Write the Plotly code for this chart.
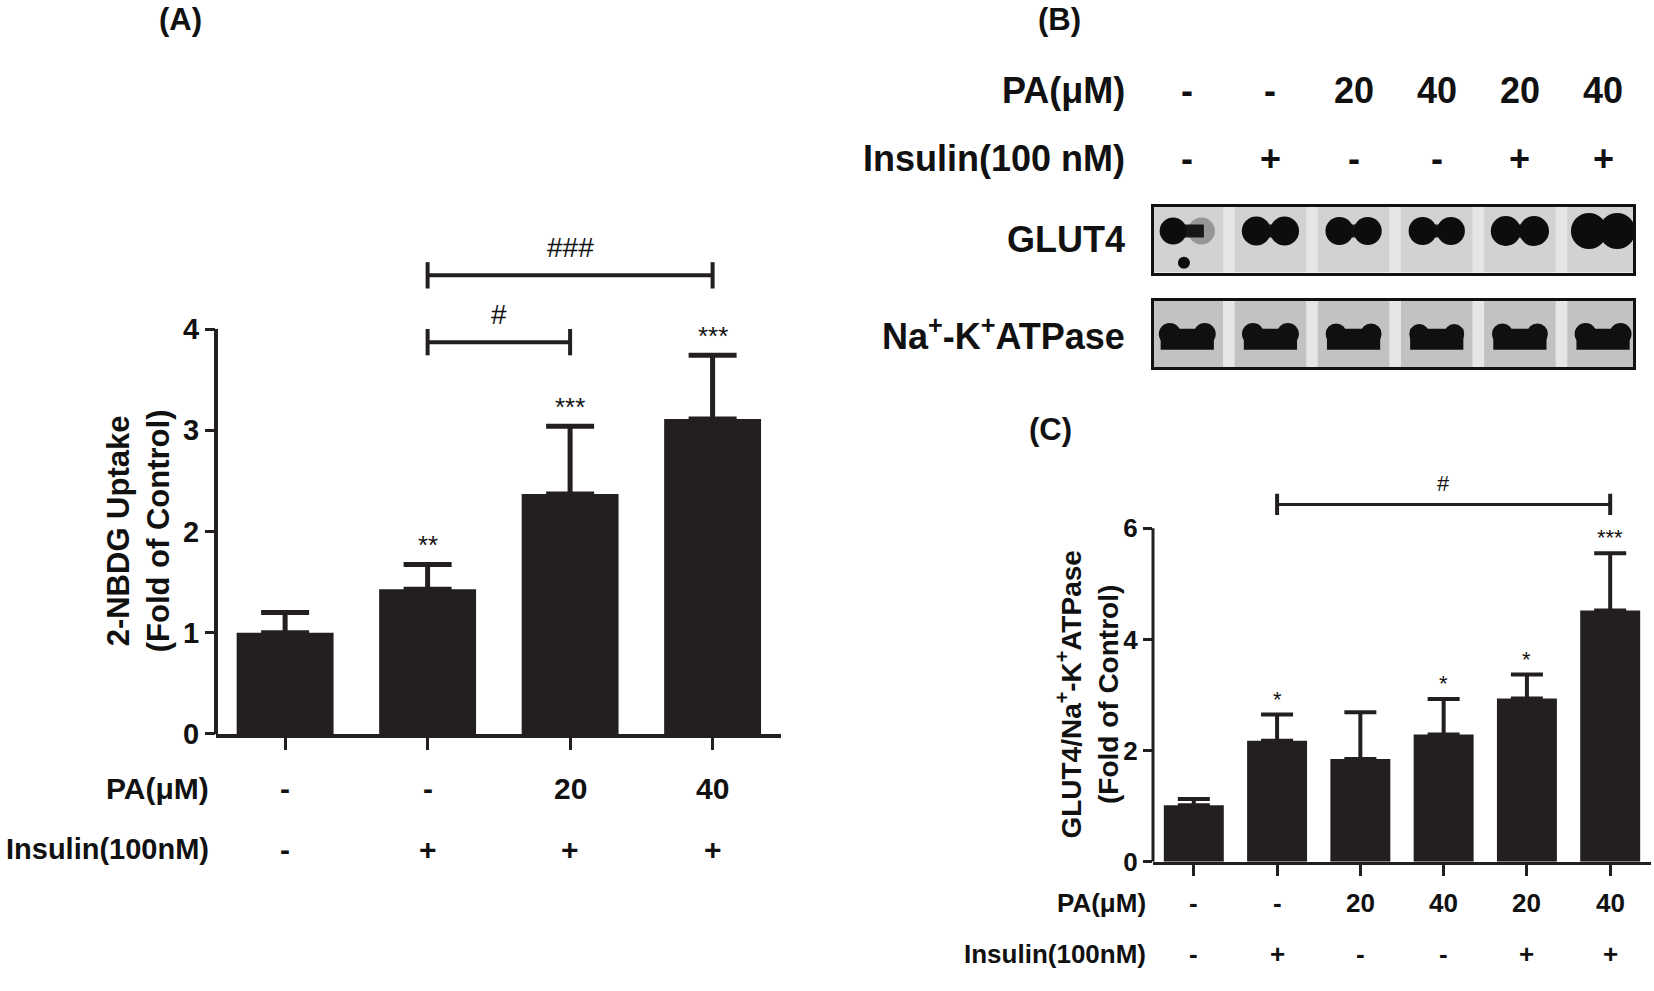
import plotly.graph_objects as go

W, H = 1654, 991
DARK = "#231f1e"
FONT = "Liberation Sans, Arial, sans-serif"

# ---- panel A: 2-NBDG uptake
a_groups = ["Control", "Insulin", "Insulin+PA20", "Insulin+PA40"]
a_means = [1.00, 1.43, 2.37, 3.11]
a_err = [0.20, 0.245, 0.67, 0.63]
a_stars = ["", "**", "***", "***"]
a_pa = ["-", "-", "20", "40"]
a_ins = ["-", "+", "+", "+"]
a_brackets = [(1, 2, 3.87, "#"), (1, 3, 4.53, "###")]

# ---- panel C: GLUT4 / Na+-K+ATPase
c_groups = ["Control", "Insulin", "PA20", "PA40", "Insulin+PA20", "Insulin+PA40"]
c_means = [1.02, 2.18, 1.85, 2.29, 2.94, 4.52]
c_err = [0.11, 0.47, 0.84, 0.64, 0.43, 1.03]
c_stars = ["", "*", "", "*", "*", "***"]
c_pa = ["-", "-", "20", "40", "20", "40"]
c_ins = ["-", "+", "-", "-", "+", "+"]
c_brackets = [(1, 5, 6.43, "#")]

# ---- panel B: blot band look (relative darkness / size per lane)
glut4_left = [1.0, 1.0, 1.0, 1.0, 1.0, 1.0]
glut4_right = [0.3, 1.0, 1.0, 1.0, 1.0, 1.0]
glut4_size = [27, 29, 28, 28, 30, 36]
nak_size = [22, 22, 21, 20, 21, 22]


def px(x):
    return min(1.0, x / W)


def py(y):
    return 1 - y / H


fig = go.Figure()

fig.add_trace(go.Bar(
    x=a_groups, y=a_means, width=0.68, marker_color=DARK, marker_line_width=0,
    error_y=dict(type="data", symmetric=False, array=a_err, arrayminus=[0] * len(a_err),
                 color=DARK, thickness=5, width=24),
    xaxis="x", yaxis="y", showlegend=False))

fig.add_trace(go.Bar(
    x=c_groups, y=c_means, width=0.72, marker_color=DARK, marker_line_width=0,
    error_y=dict(type="data", symmetric=False, array=c_err, arrayminus=[0] * len(c_err),
                 color=DARK, thickness=4, width=16),
    xaxis="x2", yaxis="y2", showlegend=False))

lanes = list(range(len(c_groups)))
band = "#0d0d0d"

# GLUT4 blot: lane smear + bow-tie bands
fig.add_trace(go.Bar(x=lanes, y=[1] * 6, width=0.86, marker_color="#d2d2d2", marker_line_width=0,
                     xaxis="x3", yaxis="y3", showlegend=False))
fig.add_trace(go.Bar(x=lanes, y=[0.2] * 6, base=0.53, width=0.4, marker_color="#1a1a1a",
                     marker_line_width=0, xaxis="x3", yaxis="y3", showlegend=False))
fig.add_trace(go.Scatter(x=[l - 0.17 for l in lanes], y=[0.63] * 6, mode="markers",
                         marker=dict(size=glut4_size, color=band, opacity=glut4_left,
                                     line=dict(width=0)),
                         xaxis="x3", yaxis="y3", showlegend=False))
fig.add_trace(go.Scatter(x=[l + 0.17 for l in lanes], y=[0.63] * 6, mode="markers",
                         marker=dict(size=glut4_size, color=band, opacity=glut4_right,
                                     line=dict(width=0)),
                         xaxis="x3", yaxis="y3", showlegend=False))
fig.add_trace(go.Scatter(x=[-0.04], y=[0.15], mode="markers",
                         marker=dict(size=12, color=band, line=dict(width=0)),
                         xaxis="x3", yaxis="y3", showlegend=False))

# Na+-K+ATPase blot: broad band with raised ends
fig.add_trace(go.Bar(x=lanes, y=[1] * 6, width=0.86, marker_color="#c2c2c2", marker_line_width=0,
                     xaxis="x4", yaxis="y4", showlegend=False))
fig.add_trace(go.Scatter(x=[l - 0.21 for l in lanes], y=[0.5] * 6, mode="markers",
                         marker=dict(size=nak_size, color="#101010", opacity=1, line=dict(width=0)),
                         xaxis="x4", yaxis="y4", showlegend=False))
fig.add_trace(go.Scatter(x=[l + 0.21 for l in lanes], y=[0.5] * 6, mode="markers",
                         marker=dict(size=nak_size, color="#101010", opacity=1, line=dict(width=0)),
                         xaxis="x4", yaxis="y4", showlegend=False))
fig.add_trace(go.Bar(x=lanes, y=[0.32] * 6, base=0.26, width=0.64, marker_color="#101010",
                     marker_line_width=0, xaxis="x4", yaxis="y4", showlegend=False))

ann = []
shapes = []


def txt(x, y, s, size, bold=True, xref="paper", yref="paper", xanchor="center", yanchor="middle",
        angle=0, yshift=0):
    if bold:
        s = "<b>" + s + "</b>"
    ann.append(dict(x=x, y=y, text=s, xref=xref, yref=yref, showarrow=False, xanchor=xanchor,
                    yanchor=yanchor, textangle=angle, yshift=yshift,
                    font=dict(family=FONT, size=size, color="#111111")))


# panel letters
txt(px(180), 1, "(A)", 31, yanchor="top")
txt(px(1059), 1, "(B)", 31, yanchor="top")
txt(px(1050), py(437), "(C)", 31)

# panel A texts
txt(px(138), py(540), "2-NBDG Uptake<br>(Fold of Control)", 31, angle=-90)
for g, m, e, s in zip(a_groups, a_means, a_err, a_stars):
    if s:
        txt(g, m + e, s, 26, bold=False, xref="x", yref="y", yanchor="bottom", yshift=2)
for g, p, n in zip(a_groups, a_pa, a_ins):
    txt(g, py(801), p, 30, xref="x")
    txt(g, py(863), n, 30, xref="x")
txt(px(211), py(801), "PA(μM)", 30, xanchor="right")
txt(px(211), py(863), "Insulin(100nM)", 29, xanchor="right")
for i0, i1, yb, s in a_brackets:
    shapes.append(dict(type="line", xref="x", yref="y", x0=i0, x1=i1, y0=yb, y1=yb,
                       line=dict(color=DARK, width=4)))
    for ii in (i0, i1):
        shapes.append(dict(type="line", xref="x", yref="y", x0=ii, x1=ii, y0=yb - 0.13, y1=yb + 0.13,
                           line=dict(color=DARK, width=4)))
    txt((i0 + i1) / 2, yb + 0.1, s, 28, bold=False, xref="x", yref="y", yanchor="bottom")

# panel C texts
txt(px(1087), py(706), "GLUT4/Na<sup>+</sup>-K<sup>+</sup>ATPase<br>(Fold of Control)", 28, angle=-90)
for g, m, e, s in zip(c_groups, c_means, c_err, c_stars):
    if s:
        txt(g, m + e, s, 22, bold=False, xref="x2", yref="y2", yanchor="bottom", yshift=1)
for g, p, n in zip(c_groups, c_pa, c_ins):
    txt(g, py(918), p, 26, xref="x2")
    txt(g, py(970), n, 26, xref="x2")
txt(px(1148), py(918), "PA(μM)", 26, xanchor="right")
txt(px(1148), py(970), "Insulin(100nM)", 26, xanchor="right")
for i0, i1, yb, s in c_brackets:
    shapes.append(dict(type="line", xref="x2", yref="y2", x0=i0, x1=i1, y0=yb, y1=yb,
                       line=dict(color=DARK, width=3)))
    for ii in (i0, i1):
        shapes.append(dict(type="line", xref="x2", yref="y2", x0=ii, x1=ii, y0=yb - 0.19, y1=yb + 0.19,
                           line=dict(color=DARK, width=4)))
    txt((i0 + i1) / 2, yb + 0.12, s, 22, bold=False, xref="x2", yref="y2", yanchor="bottom")

# panel B texts
for l, p, n in zip(lanes, c_pa, c_ins):
    txt(l, py(92), p, 36, xref="x3")
    txt(l, py(161), n, 36, xref="x3")
txt(px(1127), py(92), "PA(μM)", 36, xanchor="right")
txt(px(1127), py(161), "Insulin(100 nM)", 36, xanchor="right")
txt(px(1127), py(243), "GLUT4", 36, xanchor="right")
txt(px(1127), py(339), "Na<sup>+</sup>-K<sup>+</sup>ATPase", 36, xanchor="right")

# blot backgrounds
for xa in ("x3", "x4"):
    shapes.append(dict(type="rect", xref=xa + " domain", yref=xa.replace("x", "y") + " domain",
                       x0=0, x1=1, y0=0, y1=1, fillcolor="#e6e6e6", line=dict(width=0),
                       layer="below"))

# y axis spines that stop at the top tick
shapes.append(dict(type="line", xref="x domain", yref="y", x0=0, x1=0, y0=0, y1=4,
                   line=dict(color=DARK, width=4)))
shapes.append(dict(type="line", xref="x2 domain", yref="y2", x0=0, x1=0, y0=0, y1=6,
                   line=dict(color=DARK, width=3)))

tickfont_a = dict(family=FONT, size=29, color="#111111")
tickfont_c = dict(family=FONT, size=26, color="#111111")

fig.update_layout(
    width=W, height=H, margin=dict(l=0, r=0, t=0, b=0),
    paper_bgcolor="white", plot_bgcolor="rgba(0,0,0,0)",
    barmode="overlay", showlegend=False,
    font=dict(family=FONT),
    xaxis=dict(domain=[px(216), px(781)], range=[-0.485, 3.48], showline=True, linecolor=DARK,
               linewidth=4, ticks="outside", ticklen=12, tickwidth=3, tickcolor=DARK,
               showticklabels=False, showgrid=False, zeroline=False, anchor="y"),
    yaxis=dict(domain=[py(746), py(231.5)], range=[0, 5.0], showline=False, ticks="outside",
               ticklen=10, tickwidth=3, tickcolor=DARK, tickvals=[0, 1, 2, 3, 4],
               ticktext=["<b>%d</b>" % v for v in [0, 1, 2, 3, 4]], tickfont=tickfont_a,
               showgrid=False, zeroline=False, anchor="x"),
    xaxis2=dict(domain=[px(1153), px(1651)], range=[-0.49, 5.49], showline=True, linecolor=DARK,
                linewidth=3, ticks="outside", ticklen=11, tickwidth=3, tickcolor=DARK,
                showticklabels=False, showgrid=False, zeroline=False, anchor="y2"),
    yaxis2=dict(domain=[py(876), py(480.5)], range=[0, 7.0], showline=False, ticks="outside",
                ticklen=9, tickwidth=3, tickcolor=DARK, tickvals=[0, 2, 4, 6],
                ticktext=["<b>%d</b>" % v for v in [0, 2, 4, 6]], tickfont=tickfont_c,
                showgrid=False, zeroline=False, anchor="x2"),
    xaxis3=dict(domain=[px(1154), px(1633)], range=[-0.40, 5.36], showline=True, mirror=True,
                linecolor="#111111", linewidth=3, showticklabels=False, ticks="", showgrid=False,
                zeroline=False, anchor="y3"),
    yaxis3=dict(domain=[py(277), py(210)], range=[0, 1], showline=True, mirror=True,
                linecolor="#111111", linewidth=3, showticklabels=False, ticks="", showgrid=False,
                zeroline=False, anchor="x3"),
    xaxis4=dict(domain=[px(1154), px(1633)], range=[-0.40, 5.36], showline=True, mirror=True,
                linecolor="#111111", linewidth=3, showticklabels=False, ticks="", showgrid=False,
                zeroline=False, anchor="y4"),
    yaxis4=dict(domain=[py(373), py(306)], range=[0, 1], showline=True, mirror=True,
                linecolor="#111111", linewidth=3, showticklabels=False, ticks="", showgrid=False,
                zeroline=False, anchor="x4"),
    annotations=ann, shapes=shapes,
)

# drop the page margin and let the figure fill the actual viewport
# (layout positions above are fractions, so they scale with it)
fit_js = (
    "document.body.style.margin='0';document.body.style.overflow='hidden';"
    "var gd=document.getElementById('{plot_id}');"
    "var w=window.innerWidth||%d, h=window.innerHeight||%d;"
    "gd.style.width=w+'px';gd.style.height=h+'px';"
    "Plotly.relayout(gd,{width:w,height:h});" % (W, H)
)
fig.write_html("out.html", config={"displayModeBar": False}, post_script=fit_js)
